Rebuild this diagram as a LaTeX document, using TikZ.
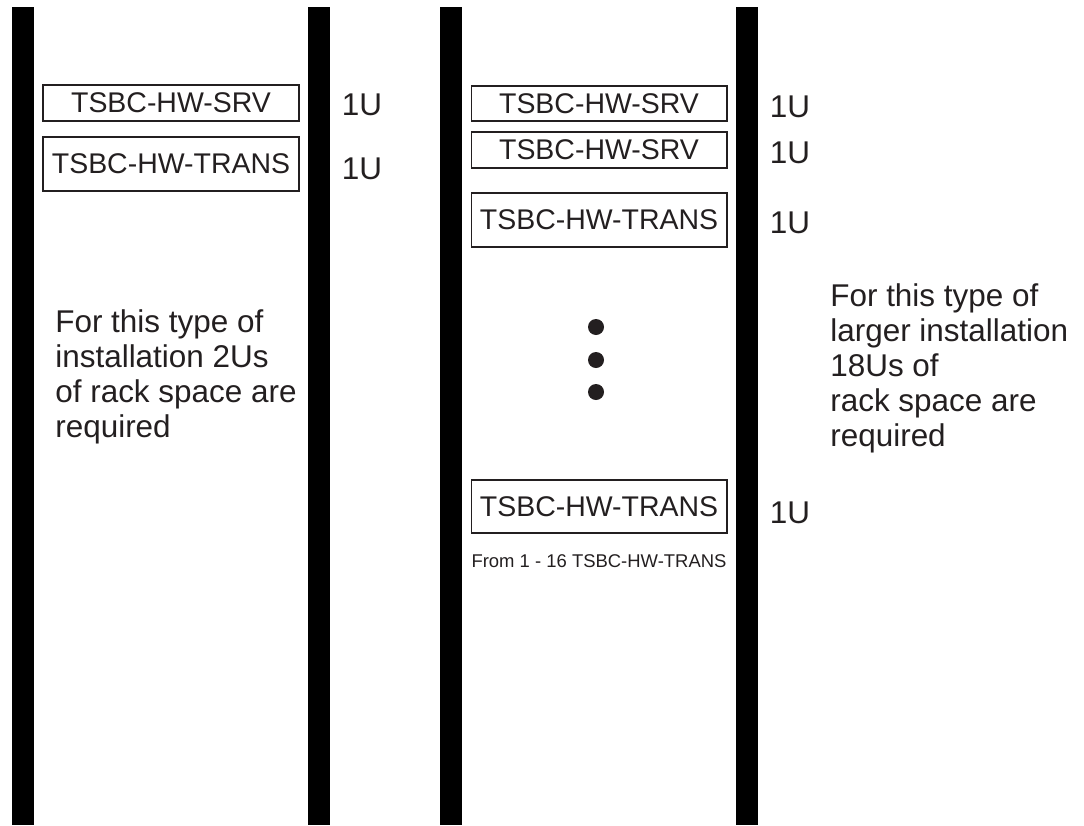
\documentclass[tikz,border=0pt]{standalone}
\usepackage{fontspec}
\setmainfont{Liberation Sans}
\usepackage{tikz}
\definecolor{ink}{RGB}{35,31,32}
\tikzstyle{unit box}=[draw=ink, line width=0.6pt, minimum width=5.12cm, inner sep=0pt, text=ink, font=\fontsize{16.2}{18}\selectfont]
\tikzstyle{unit label}=[inner sep=0pt, text=ink, font=\fontsize{17.9}{20}\selectfont]
\tikzstyle{rack text}=[align=left, anchor=north west, inner sep=0pt, text=ink, font=\fontsize{17.9}{19.9}\selectfont]
\tikzstyle{every circle node}=[circle, fill=ink, inner sep=0pt, minimum size=0.32cm]

\begin{document}
\begin{tikzpicture}[x=0.02cm, y=-0.02cm]
\useasboundingbox (0,0) rectangle (1084,825);
% rails
\fill (12,7) rectangle (34,825);
\fill (308,7) rectangle (330,825);
\fill (440,7) rectangle (462,825);
\fill (736,7) rectangle (758,825);
% small installation
\node[unit box, minimum height=0.72cm] (srva) at (171,103) {TSBC-HW-SRV};
\node[unit box, minimum height=1.08cm] (transa) at (171,164) {TSBC-HW-TRANS};
\node[unit label] (ua) at (362,105) {1U};
\node[unit label] (ub) at (362,169) {1U};
\node[rack text] (notea) at (55,309) {For this type of\\installation 2Us\\of rack space are\\required};
% larger installation
\node[unit box, minimum height=0.70cm] (srvb) at (599,103.5) {TSBC-HW-SRV};
\node[unit box, minimum height=0.72cm] (srvc) at (599,150) {TSBC-HW-SRV};
\node[unit box, minimum height=1.08cm] (transb) at (599,220) {TSBC-HW-TRANS};
\node[unit box, minimum height=1.06cm] (transc) at (599,506.5) {TSBC-HW-TRANS};
\node[inner sep=0pt, text=ink, font=\fontsize{10.5}{12}\selectfont] (range) at (599,561) {From 1 - 16 TSBC-HW-TRANS};
\node[circle] (da) at (596,327) {};
\node[circle] (db) at (596,360) {};
\node[circle] (dc) at (596,392) {};
\node[unit label] (uc) at (790,107) {1U};
\node[unit label] (ud) at (790,153) {1U};
\node[unit label] (ue) at (790,223) {1U};
\node[unit label] (uf) at (790,513) {1U};
\node[rack text] (noteb) at (830,283) {For this type of\\larger installation\\18Us of\\rack space are\\required};
\end{tikzpicture}
\end{document}
